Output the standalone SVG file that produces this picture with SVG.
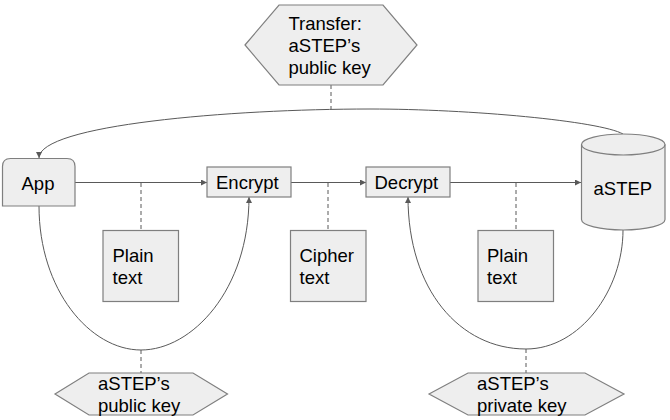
<svg xmlns="http://www.w3.org/2000/svg" width="670" height="420" viewBox="0 0 670 420">
<style>
.s{fill:#eeeeee;stroke:#7f7f7f;stroke-width:1.2}
.t{font-family:"Liberation Sans",Arial,sans-serif;font-size:18.5px;fill:#000}
.c{fill:none;stroke:#595959;stroke-width:1}
.d{fill:none;stroke:#595959;stroke-width:1;stroke-dasharray:4 3}
</style>
<defs>
<marker id="a" markerUnits="userSpaceOnUse" markerWidth="7" markerHeight="7" refX="6" refY="3" orient="auto"><path d="M0,0L6,3L0,6Z" fill="#595959"/></marker>
</defs>
<rect width="670" height="420" fill="#fff"/>
<g id="connectors">
<path class="c" marker-end="url(#a)" d="M75,182.500H207"/>
<path class="c" marker-end="url(#a)" d="M291,182.500H366"/>
<path class="c" marker-end="url(#a)" d="M450,182.500H581"/>
<path class="d" d="M141,183V230"/>
<path class="d" d="M328,183V230"/>
<path class="d" d="M516,183V230"/>
<path class="d" d="M331,85V109"/>
<path class="d" d="M141,350V373"/>
<path class="d" d="M526,349V373"/>
<path class="c" marker-end="url(#a)" d="M623,134C600,121 470,109 370,109C230,109 39,125 39,158"/>
<path class="c" marker-end="url(#a)" d="M39,206C39,290 90,350 141,350C192,350 249,290 249,197"/>
<path class="c" marker-end="url(#a)" d="M623,230C623,290 580,349 526,349C460,349 408,290 408,197"/>
</g>
<g id="transfer"><path class="s" d="M245,45L279,5H383L417,45L383,85H279Z"/>
<text class="t" x="288.500" y="30">Transfer:</text><text class="t" x="288.500" y="52">aSTEP’s</text><text class="t" x="288.500" y="74">public key</text></g>
<g id="app"><path class="s" d="M2.500,206V166.500Q2.500,158.500 10.500,158.500H67Q75,158.500 75,166.500V206Z"/>
<text class="t" x="21.500" y="190">App</text></g>
<g id="encrypt"><rect class="s" x="207" y="167" width="84" height="30"/>
<text class="t" x="216" y="189">Encrypt</text></g>
<g id="decrypt"><rect class="s" x="366" y="167" width="84" height="30"/>
<text class="t" x="374.500" y="189">Decrypt</text></g>
<g id="astep"><path class="s" d="M581.500,144.500C581.500,138.700 600,134 623.250,134C646.500,134 665,138.700 665,144.500V219.500C665,225.300 646.500,230 623.250,230C600,230 581.500,225.300 581.500,219.500Z"/>
<path class="s" style="fill:none" d="M581.500,144.500C581.500,150.300 600,155 623.250,155C646.500,155 665,150.300 665,144.500"/>
<text class="t" x="593.500" y="195">aSTEP</text></g>
<g id="plain1"><rect class="s" x="103" y="230.500" width="75.500" height="71"/>
<text class="t" x="112.500" y="262">Plain</text><text class="t" x="112.500" y="284">text</text></g>
<g id="cipher"><rect class="s" x="290.500" y="230.500" width="75.500" height="71"/>
<text class="t" x="299.500" y="262">Cipher</text><text class="t" x="299.500" y="284">text</text></g>
<g id="plain2"><rect class="s" x="478" y="230.500" width="75.500" height="71"/>
<text class="t" x="487" y="262">Plain</text><text class="t" x="487" y="284">text</text></g>
<g id="pubkey"><path class="s" d="M55,394L89,373H193L227.500,394L193,415H89Z"/>
<text class="t" x="98" y="390">aSTEP’s</text><text class="t" x="98" y="412">public key</text></g>
<g id="privkey"><path class="s" d="M429,394L468,373H585L624,394L585,415H468Z"/>
<text class="t" x="477" y="390">aSTEP’s</text><text class="t" x="477" y="412">private key</text></g>
</svg>
